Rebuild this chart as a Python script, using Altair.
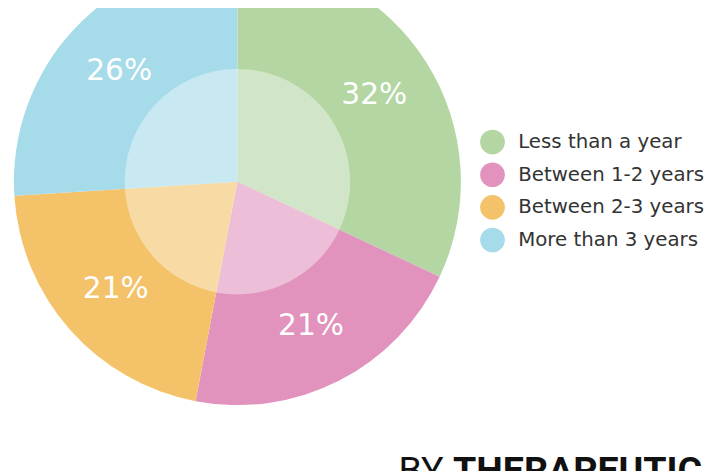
import altair as alt
import pandas as pd

categories = ["Less than a year", "Between 1-2 years", "Between 2-3 years", "More than 3 years"]
values = [32, 21, 21, 26]
labels = ["32%", "21%", "21%", "26%"]
colors = ["#B3D6A3", "#E293BD", "#F4C269", "#A6DBEA"]

footer_words = ["BY", "THERAPEUTIC"]

df = pd.DataFrame({"category": categories, "value": values, "label": labels, "order": list(range(len(categories)))})

CX, CY = 232, 173

base = alt.Chart(df).encode(
    theta=alt.Theta("value:Q", stack=True),
    order=alt.Order("order:Q"),
)

color = alt.Color(
    "category:N",
    scale=alt.Scale(domain=categories, range=colors),
    sort=categories,
    legend=alt.Legend(
        orient="none", legendX=477.5, legendY=120.5, title=None,
        symbolType="circle", symbolSize=625, symbolStrokeWidth=0,
        labelFontSize=20, labelFont="DejaVu Sans", labelColor="#333333",
        rowPadding=8, labelOffset=13.5, labelLimit=400, padding=0,
    ),
)

pie = base.mark_arc(outerRadius=226, x=CX, y=CY).encode(color=color)
inner = base.mark_arc(outerRadius=114, x=CX, y=CY, fill="white", fillOpacity=0.4)
text = base.mark_text(radius=164, x=CX, y=CY, fontSize=30, font="DejaVu Sans",
                      color="white").encode(text="label:N")

fdf = pd.DataFrame({"w": footer_words})
by = alt.Chart(fdf).transform_filter(alt.datum.w == "BY").mark_text(
    fontSize=38, font="Roboto", color="#111111", align="left", baseline="alphabetic"
).encode(text="w:N", x=alt.value(395), y=alt.value(478))
ther = alt.Chart(fdf).transform_filter(alt.datum.w == "THERAPEUTIC").mark_text(
    fontSize=38, font="Roboto", fontWeight="bold", color="#111111", align="left", baseline="alphabetic"
).encode(text="w:N", x=alt.value(450), y=alt.value(478))

chart = alt.layer(pie, inner, text, by, ther).properties(
    width=713, height=463, autosize=alt.AutoSizeParams(type="none"), padding=0,
    background="white",
).configure_view(stroke=None)

chart.save("out.html", embed_options={"renderer": "svg", "actions": False})
